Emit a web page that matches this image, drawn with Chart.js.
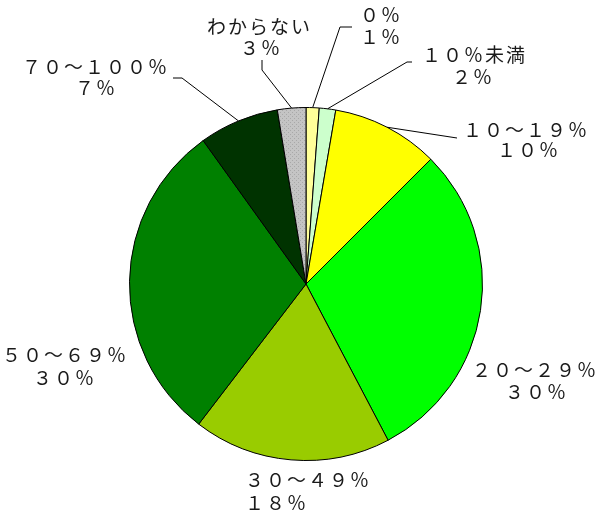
<!DOCTYPE html>
<html lang="ja">
<head>
<meta charset="utf-8">
<title>pie</title>
<script src="https://cdn.jsdelivr.net/npm/chart.js@4.4.1/dist/chart.umd.min.js"></script>
<style>
  html, body { margin: 0; padding: 0; background: #fff; }
  #wrap { width: 600px; height: 532px; }
</style>
</head>
<body>
<div id="wrap"><canvas id="pie" width="600" height="532"></canvas></div>
<script>
// slices, clockwise from 12 o'clock
const categories = ['０％', '１０％未満', '１０～１９％', '２０～２９％', '３０～４９％', '５０～６９％', '７０～１００％', 'わからない'];
const shares = [1.2, 1.5, 9.8, 29.8, 18.1, 29.7, 7.3, 2.6];
const shareLabels = ['１％', '２％', '１０％', '３０％', '１８％', '３０％', '７％', '３％'];

// gray dotted fill for "わからない"
function dotPattern(){
  const c = document.createElement('canvas');
  c.width = 4; c.height = 4;
  const g = c.getContext('2d');
  g.fillStyle = '#c4c4c4';
  g.fillRect(0, 0, 4, 4);
  g.fillStyle = '#a8a8a8';
  g.fillRect(0, 0, 1, 1);
  g.fillRect(2, 2, 1, 1);
  return g.createPattern(c, 'repeat');
}

const colors = ['#ffff99', '#ccffcc', '#ffff00', '#00ff00', '#99cc00', '#008000', '#003300', dotPattern()];

// where each label sits and how its leader line runs toward the pie
const labelLayout = [
  { a: [360, 15], b: [360, 37], leader: [[352, 27], [340, 27]] },
  { a: [422, 55], b: [452, 77], leader: [[412, 62], [407, 62]] },
  { a: [463, 130], b: [497, 150], leader: [[457, 138]] },
  { a: [472, 370], b: [505, 392] },
  { a: [245, 480], b: [245, 503] },
  { a: [2, 355], b: [33, 378] },
  { a: [22, 67], b: [75, 88], leader: [[173, 78], [182, 78]] },
  { a: [207, 27], b: [240, 48], leader: [[262, 60], [262, 70]] },
];

const pieLabels = {
  id: 'pieLabels',
  afterDatasetsDraw(chart){
    const ctx = chart.ctx;
    const arcs = chart.getDatasetMeta(0).data;
    ctx.save();
    ctx.strokeStyle = '#000';
    ctx.lineWidth = 1;
    arcs.forEach((arc, i) => {
      const lay = labelLayout[i];
      if (!lay.leader) return;
      const {x, y, startAngle, endAngle, outerRadius} = arc.getProps(['x', 'y', 'startAngle', 'endAngle', 'outerRadius'], true);
      const mid = (startAngle + endAngle) / 2;
      ctx.beginPath();
      ctx.moveTo(lay.leader[0][0], lay.leader[0][1]);
      lay.leader.slice(1).forEach(p => ctx.lineTo(p[0], p[1]));
      ctx.lineTo(x + outerRadius * Math.cos(mid), y + outerRadius * Math.sin(mid));
      ctx.stroke();
    });
    ctx.font = '19px "Noto Sans CJK JP"';
    ctx.letterSpacing = '2px';
    ctx.fillStyle = '#1a1a1a';
    ctx.textAlign = 'left';
    ctx.textBaseline = 'middle';
    categories.forEach((cat, i) => {
      const lay = labelLayout[i];
      ctx.fillText(cat, lay.a[0], lay.a[1]);
      ctx.fillText(shareLabels[i], lay.b[0], lay.b[1]);
    });
    ctx.restore();
  }
};

new Chart(document.getElementById('pie'), {
  type: 'pie',
  data: {
    labels: categories,
    datasets: [{
      data: shares,
      backgroundColor: colors,
      borderColor: '#000',
      borderWidth: 1,
    }]
  },
  options: {
    responsive: false,
    animation: false,
    layout: { padding: { top: 107, bottom: 71, left: 129, right: 117 } },
    plugins: {
      legend: { display: false },
      tooltip: { enabled: false },
    }
  },
  plugins: [pieLabels]
});
</script>
</body>
</html>
